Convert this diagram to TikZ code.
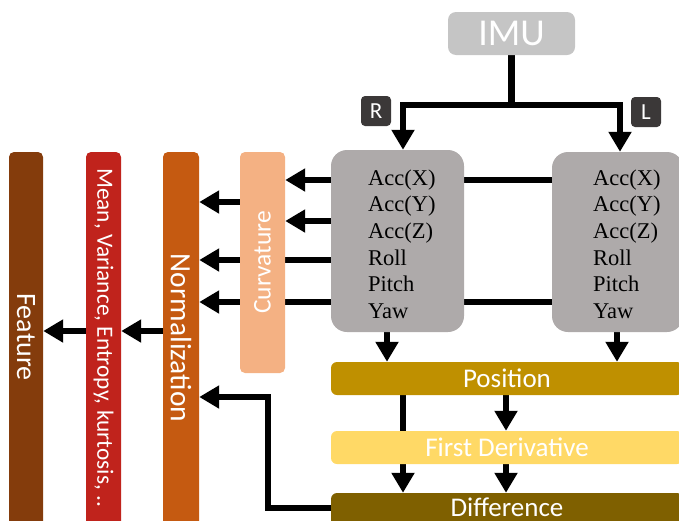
\documentclass[tikz,border=0pt]{standalone}
\usepackage{fontspec}
\setmainfont{Carlito}
\newfontfamily\serifface{Liberation Serif}
\usetikzlibrary{arrows.meta}
\pgfdeclarelayer{wires}
\pgfsetlayers{wires,main}
\definecolor{imugray}{HTML}{C5C5C5}
\definecolor{sensorgray}{HTML}{AEAAAA}
\definecolor{taggray}{HTML}{3B3838}
\definecolor{curvcol}{HTML}{F4B183}
\definecolor{normcol}{HTML}{C55A11}
\definecolor{statcol}{HTML}{C0231C}
\definecolor{featcol}{HTML}{843C0C}
\definecolor{poscol}{HTML}{BF9000}
\definecolor{fdcol}{HTML}{FFD966}
\definecolor{diffcol}{HTML}{7F6000}
\begin{document}
\begin{tikzpicture}[x=1pt,y=-1pt,
  bar/.style={rounded corners=6pt, inner sep=0pt, text=white, minimum width=352pt, minimum height=33pt, font=\fontsize{27}{30}\selectfont},
  col/.style={rounded corners=5pt, inner sep=0pt},
  vtext/.style={text=white, inner sep=0pt},
  sensor/.style={fill=sensorgray, rounded corners=16pt, inner sep=0pt},
  reading/.style={font=\serifface\fontsize{22.5}{27}\selectfont, anchor=base west, inner sep=0pt},
  tag/.style={fill=taggray, rounded corners=4pt, text=white, minimum size=30pt, inner sep=0pt, font=\fontsize{23}{24}\selectfont},
  wire/.style={line width=6.5pt},
  arr/.style={wire, -{Triangle[length=20pt,width=22pt]}}]
\useasboundingbox (0,0) rectangle (679,520);
\clip (0,0) rectangle (679,520);

% source and side tags
\node[fill=imugray, rounded corners=8pt, minimum width=127pt, minimum height=43pt,
      text=white, inner sep=0pt, font=\fontsize{38}{40}\selectfont] (imu) at (511.5,33.5) {IMU};
\node[tag] (tagR) at (376,111) {R};
\node[tag] (tagL) at (646,112) {L};

% sensor channel boxes
\node[sensor, minimum width=133pt, minimum height=182pt] (rbox) at (397.5,241) {};
\node[sensor, minimum width=131pt, minimum height=180pt] (lbox) at (617.5,242) {};
\foreach \t [count=\i] in {Acc(X),Acc(Y),Acc(Z),Roll,Pitch,Yaw} {
  \node[reading] (rr\i) at (368,{185+26.7*(\i-1)}) {\t};
  \node[reading] (lr\i) at (593,{185+26.7*(\i-1)}) {\t};
}

% vertical processing columns
\node[col, fill=curvcol, minimum width=45pt, minimum height=221pt] (curv) at (262.5,262.5) {};
\node[vtext, rotate=90, font=\fontsize{25.5}{28}\selectfont] (curvt) at (262.5,262.5) {Curvature};
\node[col, fill=normcol, minimum width=36pt, minimum height=388pt] (norm) at (181,346) {};
\node[vtext, rotate=-90, font=\fontsize{29.5}{32}\selectfont] (normt) at (181,338) {Normalization};
\node[col, fill=statcol, minimum width=35pt, minimum height=388pt] (stat) at (103.5,346) {};
\node[vtext, rotate=-90, anchor=west, font=\fontsize{23.3}{26}\selectfont] (statt) at (103.5,168) {Mean, Variance, Entropy, kurtosis, ..};
\node[col, fill=featcol, minimum width=34pt, minimum height=388pt] (feat) at (26,346) {};
\node[vtext, rotate=-90, font=\fontsize{28}{30}\selectfont] (featt) at (26,337) {Feature};

% horizontal processing bars
\node[bar, fill=poscol] (pos) at (507,378.5) {Position};
\node[bar, fill=fdcol] (fd) at (507,447.5) {First Derivative};
\node[bar, fill=diffcol, minimum height=34pt] (diff) at (507,510) {};
\node[text=white, inner sep=0pt, anchor=base, font=\fontsize{27}{30}\selectfont] (difft) at (507,516.5) {Difference};

\begin{pgfonlayer}{wires}
  \coordinate (split) at (511.5,105);
  \draw[arr] (imu.south) -- (split) -| ([xshift=5.5pt]rbox.north);
  \draw[arr] (split) -| ([xshift=2.5pt]lbox.north);
  \foreach \yy in {180,302}
    \draw[wire] (rbox.east |- 0,\yy) -- (lbox.west |- 0,\yy);
  \foreach \yy in {180,221}
    \draw[arr] (rbox.west |- 0,\yy) -- (curv.east |- 0,\yy);
  \foreach \yy in {260,302}
    \draw[arr] (rbox.west |- 0,\yy) -- (norm.east |- 0,\yy);
  \draw[arr] (curv.west |- 0,202) -- (norm.east |- 0,202);
  \draw[arr] (norm.west |- 0,331) -- (stat.east |- 0,331);
  \draw[arr] (stat.west |- 0,331) -- (feat.east |- 0,331);
  \draw[arr] (rbox.south -| 387,0) -- (pos.north -| 387,0);
  \draw[arr] (lbox.south -| 617,0) -- (pos.north -| 617,0);
  \draw[arr] (pos.south -| 403,0) -- (diff.north -| 403,0);
  \draw[arr] (pos.south -| 506,0) -- (fd.north -| 506,0);
  \draw[arr] (fd.south -| 506,0) -- (diff.north -| 506,0);
  \coordinate (bend) at (268,397);
  \draw[arr] (diff.west |- 0,508) -| (bend) -- (norm.east |- bend);
\end{pgfonlayer}
\end{tikzpicture}
\end{document}
